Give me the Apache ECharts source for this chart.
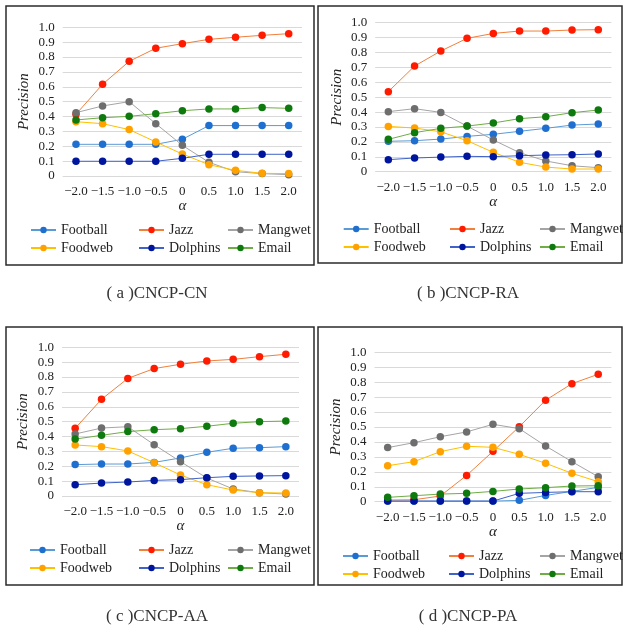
<!DOCTYPE html>
<html><head><meta charset="utf-8">
<script src="https://cdn.jsdelivr.net/npm/echarts@6/dist/echarts.min.js"></script>
<style>html,body{margin:0;padding:0;background:#fff}#c{width:623px;height:630px}</style>
</head><body><div id="c"></div>
<script>
const alphas = ['−2.0','−1.5','−1.0','−0.5','0','0.5','1.0','1.5','2.0'];
const seriesNames = ['Football','Jazz','Mangwet','Foodweb','Dolphins','Email'];
const captions = ['( a )CNCP-CN','( b )CNCP-RA','( c )CNCP-AA','( d )CNCP-PA'];

// (a) CNCP-CN
const cnFootball = [0.213,0.213,0.213,0.213,0.247,0.339,0.339,0.339,0.339];
const cnJazz     = [0.415,0.617,0.771,0.859,0.890,0.919,0.933,0.946,0.957];
const cnMangwet  = [0.426,0.471,0.500,0.352,0.206,0.092,0.029,0.016,0.009];
const cnFoodweb  = [0.365,0.352,0.312,0.229,0.148,0.076,0.038,0.018,0.016];
const cnDolphins = [0.099,0.099,0.099,0.099,0.119,0.146,0.146,0.146,0.146];
const cnEmail    = [0.377,0.392,0.401,0.419,0.439,0.451,0.451,0.460,0.455];
// (b) CNCP-RA
const raFootball = [0.204,0.208,0.219,0.237,0.251,0.271,0.291,0.313,0.320];
const raJazz     = [0.537,0.709,0.810,0.895,0.928,0.944,0.944,0.951,0.953];
const raMangwet  = [0.403,0.423,0.398,0.306,0.213,0.128,0.072,0.040,0.027];
const raFoodweb  = [0.304,0.293,0.268,0.208,0.130,0.063,0.031,0.018,0.018];
const raDolphins = [0.081,0.092,0.098,0.103,0.101,0.107,0.112,0.114,0.119];
const raEmail    = [0.217,0.262,0.291,0.306,0.327,0.356,0.369,0.396,0.414];
// (c) CNCP-AA
const aaFootball = [0.211,0.215,0.215,0.226,0.256,0.294,0.321,0.325,0.332];
const aaJazz     = [0.455,0.650,0.791,0.857,0.886,0.908,0.919,0.937,0.953];
const aaMangwet  = [0.417,0.457,0.466,0.345,0.231,0.121,0.047,0.022,0.013];
const aaFoodweb  = [0.343,0.332,0.303,0.224,0.141,0.076,0.040,0.022,0.020];
const aaDolphins = [0.076,0.087,0.094,0.105,0.110,0.123,0.132,0.135,0.137];
const aaEmail    = [0.383,0.408,0.433,0.446,0.453,0.469,0.489,0.500,0.504];
// (d) CNCP-PA
const paFootball = [0.004,0.004,0.004,0.004,0.004,0.009,0.042,0.069,0.096];
const paJazz     = [0.011,0.013,0.038,0.176,0.337,0.502,0.679,0.790,0.853];
const paMangwet  = [0.362,0.395,0.435,0.467,0.518,0.489,0.373,0.268,0.167];
const paFoodweb  = [0.241,0.268,0.335,0.371,0.364,0.317,0.257,0.190,0.134];
const paDolphins = [0.004,0.004,0.004,0.004,0.004,0.056,0.062,0.067,0.067];
const paEmail    = [0.029,0.040,0.051,0.056,0.069,0.085,0.094,0.105,0.107];

const panelData = [
  [cnFootball,cnJazz,cnMangwet,cnFoodweb,cnDolphins,cnEmail],
  [raFootball,raJazz,raMangwet,raFoodweb,raDolphins,raEmail],
  [aaFootball,aaJazz,aaMangwet,aaFoodweb,aaDolphins,aaEmail],
  [paFootball,paJazz,paMangwet,paFoodweb,paDolphins,paEmail]
];

const lineColors   = ['#5B9BD5','#F0803C','#A5A5A5','#FFC000','#3F63C6','#70AD47'];
const markerColors = ['#1F6FD0','#FF1A00','#6E6E6E','#FFA200','#00159E','#0E7A0E'];

const grids = [
  {left:62.7, top:27.3, width:239.3, height:148.7},
  {left:375.2, top:22.7, width:236.2, height:149},
  {left:62,   top:347.3, width:237, height:148.7},
  {left:374.5, top:352.3, width:236.9, height:149.4}
];
const boxes = [
  {x:6, y:6, w:308, h:259},
  {x:318, y:6, w:304, h:257},
  {x:6, y:327, w:308, h:258},
  {x:318, y:327, w:304, h:258}
];
const legendPos = [
  {top:221, cols:[30,138,227]},
  {top:220, cols:[342.7,449,539]},
  {top:541, cols:[29,138,227]},
  {top:547, cols:[342,448,539]}
];
const captionPos = [{x:157,y:294},{x:468,y:294},{x:157,y:617},{x:468,y:617}];

const serif = '"Liberation Serif", "Times New Roman", serif';

const option = {
  animation:false,
  backgroundColor:'#fff',
  grid: grids.map(g => ({left:g.left, top:g.top, width:g.width, height:g.height, containLabel:false})),
  xAxis: grids.map((g,i) => ({
    type:'category', gridIndex:i, data:alphas, boundaryGap:true,
    name:'α', nameLocation:'middle', nameGap:22,
    nameTextStyle:{fontFamily:serif, fontStyle:'italic', fontSize:15, color:'#222'},
    axisLine:{show:false}, axisTick:{show:false},
    axisLabel:{fontFamily:serif, fontSize:13, color:'#222', margin:9, interval:0}
  })),
  yAxis: grids.map((g,i) => ({
    type:'value', gridIndex:i, min:0, max:1, interval:0.1,
    name:'Precision', nameLocation:'middle', nameGap:31,
    nameTextStyle:{fontFamily:serif, fontStyle:'italic', fontSize:15, color:'#222'},
    axisLine:{show:false}, axisTick:{show:false},
    splitLine:{lineStyle:{color:'#D9D9D9', width:1}},
    axisLabel:{fontFamily:serif, fontSize:13, color:'#222', margin:8,
      formatter: v => (Math.abs(v) < 1e-9 ? '0' : v.toFixed(1))}
  })),
  legend: [],
  series: [],
  graphic: []
};

panelData.forEach((arrs, p) => {
  arrs.forEach((vals, k) => {
    option.series.push({
      type:'line', name:seriesNames[k], xAxisIndex:p, yAxisIndex:p,
      data:vals, symbol:'circle', symbolSize:7.5, showSymbol:true,
      lineStyle:{color:lineColors[k], width:1},
      itemStyle:{color:markerColors[k]},
      emphasis:{disabled:true}
    });
  });
  const cols = [['Football','Foodweb'],['Jazz','Dolphins'],['Mangwet','Email']];
  cols.forEach((names, c) => {
    option.legend.push({
      orient:'vertical', left:legendPos[p].cols[c], top:legendPos[p].top,
      padding:0, itemGap:0, itemWidth:25, itemHeight:8,
      data:names, selectedMode:false,
      textStyle:{fontFamily:serif, fontSize:14, color:'#222', lineHeight:18}
    });
  });
  const b = boxes[p];
  option.graphic.push({
    type:'rect', shape:{x:b.x, y:b.y, width:b.w, height:b.h},
    style:{fill:'none', stroke:'#2b2b2b', lineWidth:1.5}, silent:true
  });
  option.graphic.push({
    type:'text', x:captionPos[p].x, y:captionPos[p].y,
    style:{text:captions[p], fontFamily:serif, fontSize:17, fill:'#333',
      textAlign:'center', textVerticalAlign:'middle'}, silent:true
  });
});

const chart = echarts.init(document.getElementById('c'), null, {renderer:'canvas'});
chart.setOption(option);
</script>
</body></html>
